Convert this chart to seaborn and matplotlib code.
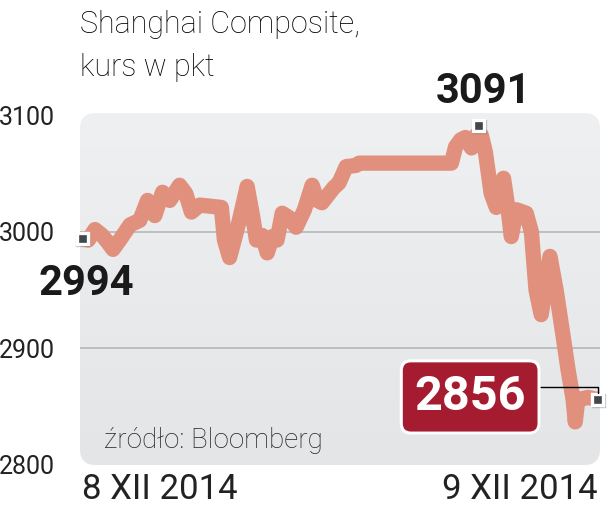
import numpy as np
import matplotlib.pyplot as plt
import matplotlib.patheffects as pe
import seaborn as sns
from matplotlib.patches import FancyBboxPatch

# session progress (%) and index level
t = [0, 1.2, 2.5, 3.9, 5.0, 6.0, 7.3, 9.3, 11.2, 12.7, 14.1, 15.6, 17.0, 18.9,
     20.1, 21.2, 22.8, 27.0, 27.6, 28.6, 29.5, 30.5, 32.0, 33.0, 33.8, 34.9,
     35.9, 36.9, 37.8, 38.8, 40.2, 41.5, 43.1, 44.6, 45.6, 46.5, 48.8, 49.8,
     51.2, 53.1, 53.7, 71.6, 72.4, 73.4, 74.3, 75.5, 76.4, 77.4, 78.2, 79.3,
     80.3, 81.7, 82.6, 83.2, 84.2, 86.1, 87.1, 88.0, 89.0, 90.7, 91.9, 93.2,
     94.2, 95.2, 95.6, 96.1, 98.1, 100]
kurs = [2994, 2993, 3002, 2997, 2991, 2985, 2993, 3006, 3010, 3027, 3014, 3034,
        3027, 3040, 3033, 3017, 3023, 3021, 2993, 2978, 2993, 3010, 3039, 3015,
        2993, 2997, 2982, 2996, 2993, 3016, 3012, 3004, 3019, 3040, 3027, 3025,
        3038, 3042, 3056, 3057, 3059, 3059, 3073, 3079, 3081, 3072, 3083, 3083,
        3068, 3033, 3021, 3046, 3019, 2996, 3019, 3016, 3000, 2950, 2929, 2979,
        2950, 2912, 2882, 2856, 2837, 2856, 2858, 2856]

key_t = [0, 76.8, 100]
key_values = [2994, 3091, 2856]
y_ticks = [2800, 2900, 3000, 3100]
grid_values = [2900, 3000]
date_labels = ["8 XII 2014", "9 XII 2014"]

sns.set_theme(style="white")
plt.rcParams["font.family"] = ["Roboto", "DejaVu Sans"]

fig = plt.figure(figsize=(6.13, 5.14), dpi=100)
ax = fig.add_axes([80 / 613, 49 / 514, 520 / 613, 352 / 514])

xmin, xmax, ymin, ymax = -0.4, 100.4, 2800, 3102

# rounded grey panel with a soft vertical gradient
panel = FancyBboxPatch((0, 0), 1, 1, boxstyle="round,pad=0,rounding_size=0.03",
                       mutation_aspect=1.48, transform=ax.transAxes,
                       facecolor="none", edgecolor="none")
ax.add_patch(panel)
grad = np.linspace(0, 1, 256).reshape(-1, 1)
img = ax.imshow(grad, extent=[xmin, xmax, ymin, ymax], aspect="auto",
                cmap=sns.blend_palette(["#eff0f1", "#e4e5e6"], as_cmap=True),
                origin="upper", zorder=0)
img.set_clip_path(panel)
ax.set_facecolor("none")

for g in grid_values:
    ax.axhline(g, color="#b4b6b8", lw=1.2, zorder=1)

sns.lineplot(x=t, y=kurs, ax=ax, color="#e0907c", lw=11, estimator=None,
             solid_capstyle="round", solid_joinstyle="round", zorder=2)

ax.plot(key_t, key_values, ls="none", marker="s", ms=8, mfc="#43474b",
        mec="white", mew=2.4, zorder=5, clip_on=False,
        path_effects=[pe.SimpleLineShadow(offset=(0.5, -0.5), alpha=0.35,
                                          shadow_color="#555555"),
                      pe.Normal()])

ax.set_xlim(xmin, xmax)
ax.set_ylim(ymin, ymax)
ax.set_yticks(y_ticks)
ax.set_yticklabels([str(v) for v in y_ticks], fontsize=18, color="#222222")
ax.set_xticks([key_t[0], key_t[-1]])
ax.set_xticklabels(date_labels, fontsize=25, color="#222222")
xl = ax.get_xticklabels()
xl[0].set_ha("left")
xl[1].set_ha("right")
ax.tick_params(axis="y", length=0, pad=18)
ax.tick_params(axis="x", length=0, pad=6)
for s in ax.spines.values():
    s.set_visible(False)

# value callouts
ax.annotate(str(key_values[0]), (key_t[0], key_values[0]), xytext=(3, -32),
            textcoords="offset points", ha="center", va="center",
            fontsize=30, fontweight="bold", color="#1a1a1a", zorder=6,
            annotation_clip=False)
ax.annotate(str(key_values[1]), (key_t[1], key_values[1]), xytext=(4, 25),
            textcoords="offset points", ha="center", va="center",
            fontsize=30, fontweight="bold", color="#1a1a1a", zorder=6,
            annotation_clip=False)
ax.annotate(str(key_values[2]), (key_t[2], key_values[2]), xytext=(-92, 2),
            textcoords="offset points", ha="center", va="center",
            fontsize=35, fontweight="bold", color="white", zorder=6,
            annotation_clip=False,
            bbox=dict(boxstyle="round,pad=0.27,rounding_size=0.2",
                      fc="#a51c30", ec="white", lw=2.2,
                      path_effects=[pe.withSimplePatchShadow(offset=(0.8, -0.8),
                                                             alpha=0.3)]),
            arrowprops=dict(arrowstyle="-", color="black", lw=1,
                            relpos=(1, 0.72),
                            connectionstyle="angle,angleA=0,angleB=90,rad=0",
                            shrinkA=0, shrinkB=5))

ax.text(0.047, 0.03, "źródło: Bloomberg", transform=ax.transAxes,
        fontsize=20, fontweight="light", color="#222222", va="bottom")

fig.text(80 / 613, 1 - 10 / 514, "Shanghai Composite,\nkurs w pkt",
         fontsize=22, fontweight="light", color="#000000", va="top",
         linespacing=1.6)

fig.savefig("out.png", dpi=100)
